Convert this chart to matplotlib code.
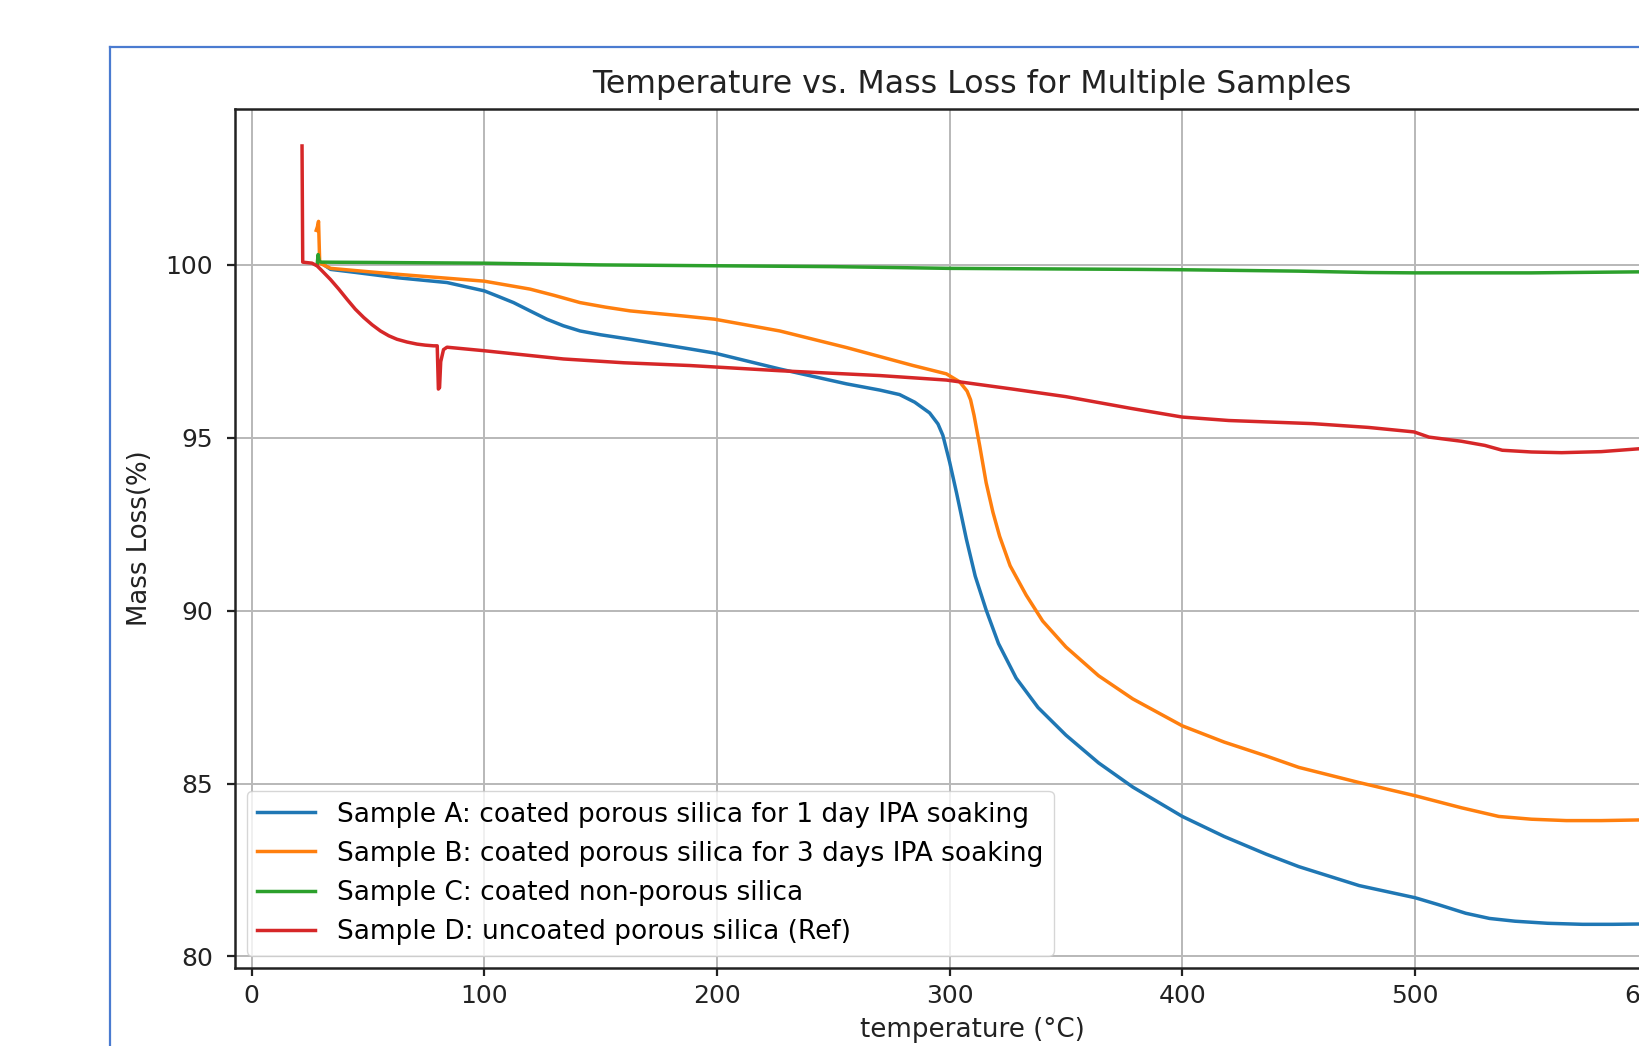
import matplotlib
matplotlib.use('Agg')
import matplotlib.pyplot as plt
from matplotlib.lines import Line2D

# TGA curves (temperature in degC, mass in %)
temp_a = [29.0, 34, 45, 62.5, 84, 100, 106, 112.6, 119.7, 126.9, 134, 141.2, 150, 162.7,
          188.4, 199, 227, 255.7, 270, 278.5, 285, 291.4, 295, 297.1, 300, 303, 307.2,
          311, 315.7, 321, 328.6, 338, 350, 364, 378.7, 400, 418, 436, 450, 476, 500,
          510, 521.8, 532, 543, 557, 572, 585, 597.7]
mass_a = [100.1, 99.87, 99.78, 99.63, 99.49, 99.25, 99.09, 98.91, 98.67, 98.43, 98.24,
          98.09, 97.98, 97.85, 97.57, 97.45, 96.99, 96.56, 96.38, 96.25, 96.03, 95.72,
          95.4, 95.07, 94.3, 93.4, 92.07, 91.0, 90.02, 89.05, 88.05, 87.2, 86.4, 85.6,
          84.9, 84.05, 83.47, 82.96, 82.6, 82.05, 81.7, 81.5, 81.25, 81.1, 81.02, 80.96,
          80.93, 80.93, 80.94]

temp_b = [27.8, 28.3, 28.8, 29.3, 34, 62.5, 100, 119.7, 130, 141.2, 152, 162.7, 186, 199,
          227, 255.7, 284.3, 298.6, 304.3, 307.5, 309, 310.5, 312.9, 315.7, 318.6, 321.5,
          326, 332.9, 340, 350, 364, 378.7, 400, 418, 436, 450, 476, 500, 520, 536, 550,
          565, 580, 597.7]
mass_b = [101.0, 101.1, 101.26, 100.05, 99.9, 99.73, 99.53, 99.3, 99.12, 98.91, 98.78,
          98.67, 98.52, 98.43, 98.09, 97.61, 97.09, 96.85, 96.62, 96.35, 96.1, 95.65,
          94.78, 93.7, 92.85, 92.15, 91.3, 90.45, 89.7, 88.95, 88.12, 87.45, 86.67, 86.2,
          85.8, 85.47, 85.03, 84.65, 84.3, 84.05, 83.97, 83.93, 83.93, 83.95]

temp_c = [28.2, 28.6, 29.1, 30, 100, 150, 190, 250, 300, 382, 400, 450, 480, 500,
          550, 597.7]
mass_c = [100.0, 100.3, 100.1, 100.08, 100.05, 100.0, 99.98, 99.95, 99.9, 99.87, 99.86,
          99.82, 99.78, 99.77, 99.77, 99.8]

temp_d = [21.7, 22.0, 26, 28.2, 30, 33.9, 37.5, 41.1, 44.6, 48.2, 51.8, 55.4, 59,
          62.5, 66.8, 71.1, 74.6, 78.2, 79.8, 80.3, 80.8, 81.3, 82.5, 84, 99.7, 134,
          160, 188.4, 227, 270, 298.6, 327, 350, 378, 400, 420, 456, 480, 499.6, 506,
          520, 530, 537.5, 550, 563, 580, 597.7]
mass_d = [103.44, 100.08, 100.05, 99.97, 99.85, 99.58, 99.3, 99.0, 98.72, 98.48, 98.27,
          98.09, 97.95, 97.85, 97.77, 97.71, 97.68, 97.66, 97.66, 96.41, 96.45, 97.2,
          97.55, 97.62, 97.52, 97.28, 97.17, 97.09, 96.94, 96.8, 96.67, 96.41, 96.19,
          95.85, 95.6, 95.5, 95.41, 95.3, 95.17, 95.02, 94.9, 94.78, 94.64, 94.59, 94.57,
          94.6, 94.69]

labels = ['Sample A: coated porous silica for 1 day IPA soaking',
          'Sample B: coated porous silica for 3 days IPA soaking',
          'Sample C: coated non-porous silica',
          'Sample D: uncoated porous silica (Ref)']

fig = plt.figure(figsize=(16.4, 10.46), dpi=100)
# screenshot frame
fig.add_artist(Line2D([110/1640, 110/1640], [0, 1 - 47/1046], transform=fig.transFigure,
                      color='#4a7bd0', lw=1.6))
fig.add_artist(Line2D([110/1640, 1], [1 - 47/1046, 1 - 47/1046], transform=fig.transFigure,
                      color='#4a7bd0', lw=1.6))

# axes run past the right edge, as in the cropped screenshot
ax = fig.add_axes([0.1433, 0.075, 0.899, 0.8205])
ax.plot(temp_a, mass_a, color='#1f77b4', lw=2.5, label=labels[0])
ax.plot(temp_b, mass_b, color='#ff7f0e', lw=2.5, label=labels[1])
ax.plot(temp_c, mass_c, color='#2ca02c', lw=2.5, label=labels[2])
ax.plot(temp_d, mass_d, color='#d62728', lw=2.5, label=labels[3])

ax.set_xlim(-7.1, 626.5)
ax.set_ylim(79.68, 104.5)
ax.set_xticks([0, 100, 200, 300, 400, 500, 600])
ax.set_yticks([80, 85, 90, 95, 100])
ax.grid(True, color='#b8b8b8', lw=1.4)
for s in ax.spines.values():
    s.set_linewidth(1.8)
    s.set_color('#222222')
ax.tick_params(axis='both', labelsize=18, length=6, width=1.6, color='#222222',
               labelcolor='#222222')
ax.tick_params(axis='y', pad=10)
ax.tick_params(axis='x', pad=6)

ax.set_title('Temperature vs. Mass Loss for Multiple Samples', fontsize=22.8, pad=12,
             color='#222222')
ax.set_xlabel('temperature (°C)', fontsize=18.8, labelpad=6, color='#222222')
ax.set_ylabel('Mass Loss(%)', fontsize=18.7, labelpad=9, color='#222222')
ax.legend(loc='lower left', fontsize=19, handlelength=2.2, borderaxespad=0.45)

fig.savefig('out.png', dpi=100)
